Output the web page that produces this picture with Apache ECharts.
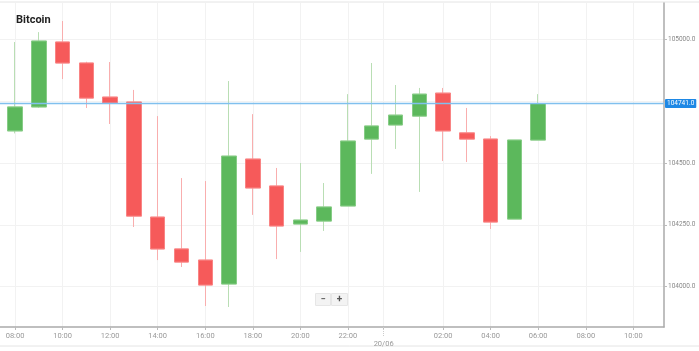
<!DOCTYPE html>
<html>
<head>
<meta charset="utf-8">
<script src="https://cdn.jsdelivr.net/npm/echarts@6/dist/echarts.min.js"></script>
<style>
html, body { margin: 0; padding: 0; background: #fff; }
#chart { width: 699px; height: 351px; }
</style>
</head>
<body>
<div id="chart"></div>
<script>
// hourly slots on the x axis, 19/06 08:00 -> 20/06 11:00
var hours = ['08:00','09:00','10:00','11:00','12:00','13:00','14:00','15:00','16:00','17:00','18:00','19:00',
	'20:00','21:00','22:00','23:00','00:00','01:00','02:00','03:00','04:00','05:00','06:00','07:00',
	'08:00','09:00','10:00','11:00'];
var opens  = [104630,104727,104990,104905,104767,104747,104281,104152,104107,104010,104516,104407,
	104253,104265,104326,104597,104654,104690,104783,104622,104597,104273,104593];
var closes = [104727,104994,104905,104763,104743,104285,104152,104099,104006,104528,104399,104245,
	104269,104322,104589,104650,104694,104779,104630,104597,104261,104593,104741];
var lows   = [104620,104723,104840,104723,104658,104241,104107,104079,103921,103917,104290,104111,
	104140,104225,104326,104456,104557,104383,104508,104504,104233,104273,104593];
var highs  = [104990,105030,105075,104910,104909,104796,104690,104439,104427,104832,104698,104480,
	104500,104419,104779,104905,104816,104804,104804,104723,104609,104593,104779];
var lastPrice = 104741;
var dayLabel = '20/06';
var priceTicks = [104000,104250,104500,104750,105000];

var xMin = -0.631, xMax = 27.29;
var hourTicks = [];
for (var i = 0; i < hours.length; i += 2) {
	if (hours[i] != '00:00') hourTicks.push(i);
}
var dayStart = hours.indexOf('00:00') - 0.5;

var full = [], bodies = [];
for (var i = 0; i < opens.length; i++) {
	full.push([i, opens[i], closes[i], lows[i], highs[i]]);
	bodies.push([i, opens[i], closes[i], Math.min(opens[i], closes[i]), Math.max(opens[i], closes[i])]);
}

var chart = echarts.init(document.getElementById('chart'));
chart.setOption({
	animation: false,
	title: {
		text: 'Bitcoin',
		left: 11,
		top: 10,
		textStyle: { fontFamily: 'Roboto', fontSize: 11, fontWeight: 'bold', color: '#222' }
	},
	grid: { left: 0, right: 35, top: 3, bottom: 24 },
	xAxis: [{
		type: 'value',
		min: xMin,
		max: xMax,
		axisLine: { onZero: false, lineStyle: { color: '#aaa', width: 1.5 } },
		axisTick: { customValues: hourTicks.concat([dayStart]), length: 3, lineStyle: { color: '#bbb' } },
		axisLabel: {
			customValues: hourTicks,
			formatter: function (v) { return hours[Math.round(v)]; },
			fontFamily: 'Roboto', fontSize: 7.5, color: '#999', margin: 5
		},
		splitLine: { show: true, lineStyle: { color: '#f2f2f2' } }
	}, {
		type: 'value',
		position: 'bottom',
		min: xMin,
		max: xMax,
		axisLine: { show: false, onZero: false },
		axisTick: { customValues: [dayStart], length: 10, lineStyle: { color: '#ccc', type: [1, 1] } },
		axisLabel: {
			customValues: [dayStart],
			formatter: function () { return dayLabel; },
			fontFamily: 'Roboto', fontSize: 7.5, color: '#999', margin: 13
		},
		splitLine: { show: false }
	}],
	yAxis: {
		type: 'value',
		position: 'right',
		min: 103836,
		max: 105148,
		axisLine: { show: true, onZero: false, lineStyle: { color: '#aaa', width: 1.5 } },
		axisTick: { show: true, customValues: priceTicks, length: 3, lineStyle: { color: '#bbb' } },
		axisLabel: {
			customValues: priceTicks.filter(function (v) { return v != 104750; }),
			formatter: function (v) { return v.toFixed(1); },
			fontFamily: 'Roboto', fontSize: 6.5, color: '#888', margin: 4
		},
		splitLine: { show: true, lineStyle: { color: '#f2f2f2' } }
	},
	series: [{
		// wicks
		type: 'candlestick',
		data: full,
		encode: { x: 0, y: [1, 2, 3, 4] },
		barWidth: 15,
		itemStyle: {
			color: 'transparent', color0: 'transparent',
			borderColor: '#b9deb4', borderColor0: '#f9aeae', borderWidth: 1
		}
	}, {
		// bodies
		type: 'candlestick',
		data: bodies,
		encode: { x: 0, y: [1, 2, 3, 4] },
		barWidth: 15,
		itemStyle: {
			color: '#5cb85c', color0: '#f65a5a',
			borderColor: '#86cc86', borderColor0: '#f98484', borderWidth: 1
		}
	}, {
		// last price line
		type: 'line',
		data: [[xMin, lastPrice], [xMax, lastPrice]],
		symbol: 'none',
		silent: true,
		z: 5,
		lineStyle: { color: '#80c0ee', width: 1.5 },
		itemStyle: { color: '#80c0ee' },
		endLabel: {
			show: true,
			distance: 1,
			formatter: function (p) { return p.value[1].toFixed(1); },
			fontFamily: 'Roboto', fontSize: 6.5, color: '#fff',
			backgroundColor: '#1e88e5', padding: [1, 2], borderRadius: 1
		}
	}],
	graphic: [{
		type: 'rect',
		silent: true,
		shape: { x: -1, y: 2, width: 701, height: 344 },
		style: { fill: 'none', stroke: '#e4e4e4', lineWidth: 1 }
	}, {
		type: 'group',
		left: 315,
		top: 293,
		children: [{
			type: 'rect', shape: { x: 0, y: 0, width: 15, height: 12 },
			style: { fill: '#f3f3f3', stroke: '#e6e6e6' }
		}, {
			type: 'rect', shape: { x: 16, y: 0, width: 16, height: 12 },
			style: { fill: '#f3f3f3', stroke: '#e6e6e6' }
		}, {
			type: 'text', x: 7.5, y: 6,
			style: { text: '−', fill: '#555', font: 'bold 9px Roboto', align: 'center', verticalAlign: 'middle' }
		}, {
			type: 'text', x: 24, y: 6,
			style: { text: '+', fill: '#555', font: 'bold 10px Roboto', align: 'center', verticalAlign: 'middle' }
		}]
	}]
});
</script>
</body>
</html>
